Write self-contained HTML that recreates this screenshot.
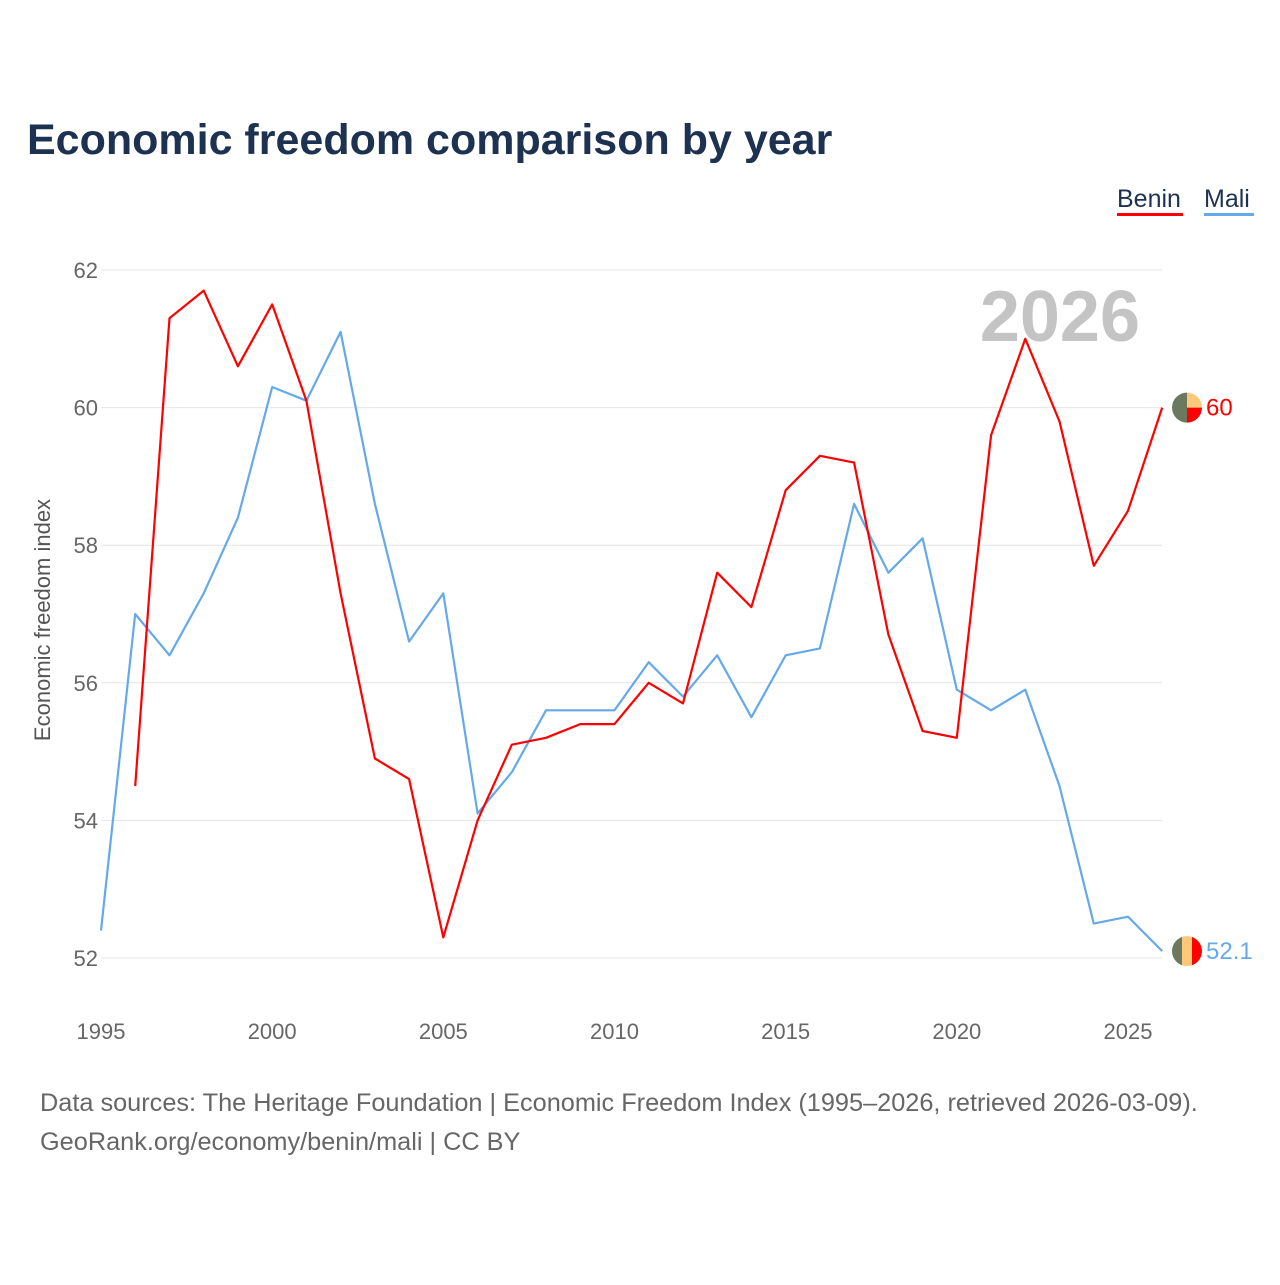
<!DOCTYPE html>
<html><head><meta charset="utf-8"><style>
body{margin:0;width:1280px;height:1280px;background:#fff;font-family:"Liberation Sans",sans-serif;overflow:hidden}
</style></head><body>
<svg width="1280" height="1280">
<text x="27" y="154" font-size="43" font-weight="bold" fill="#1d3151">Economic freedom comparison by year</text>
<g>
<text x="1117" y="207" font-size="25" fill="#1d3151">Benin</text>
<rect x="1117" y="213" width="66" height="3" fill="#ff0000"/>
<text x="1204" y="207" font-size="25" fill="#1d3151">Mali</text>
<rect x="1204" y="213" width="50" height="3" fill="#65a9ea"/>
</g>
<text x="1140" y="341" font-size="72" font-weight="bold" fill="#c4c4c4" text-anchor="end">2026</text>
<text transform="translate(50,620) rotate(-90)" font-size="22" fill="#555" text-anchor="middle">Economic freedom index</text>
<g id="grid"></g><g id="xt"></g><g id="lines"></g>
<text x="40" y="1111" font-size="25.3" fill="#666">Data sources: The Heritage Foundation | Economic Freedom Index (1995–2026, retrieved 2026-03-09).</text>
<text x="40" y="1150" font-size="25.3" fill="#666">GeoRank.org/economy/benin/mali | CC BY</text>
</svg>
<script>
const years=[1995,1996,1997,1998,1999,2000,2001,2002,2003,2004,2005,2006,2007,2008,2009,2010,2011,2012,2013,2014,2015,2016,2017,2018,2019,2020,2021,2022,2023,2024,2025,2026];
const benin=[null,54.5,61.3,61.7,60.6,61.5,60.1,57.3,54.9,54.6,52.3,54.0,55.1,55.2,55.4,55.4,56.0,55.7,57.6,57.1,58.8,59.3,59.2,56.7,55.3,55.2,59.6,61.0,59.8,57.7,58.5,60.0];
const mali=[52.4,57.0,56.4,57.3,58.4,60.3,60.1,61.1,58.6,56.6,57.3,54.1,54.7,55.6,55.6,55.6,56.3,55.8,56.4,55.5,56.4,56.5,58.6,57.6,58.1,55.9,55.6,55.9,54.5,52.5,52.6,52.1];
const yTicks=[52,54,56,58,60,62];
const xTicks=[1995,2000,2005,2010,2015,2020,2025];
const NS="http://www.w3.org/2000/svg";
const X=y=>101+(y-1995)*34.233;
const Y=v=>958-(v-52)*68.8;
function el(t,a,p){const e=document.createElementNS(NS,t);for(const k in a)e.setAttribute(k,a[k]);p.appendChild(e);return e;}
const grid=document.getElementById('grid');
yTicks.forEach(t=>{
 const l=el('line',{x1:101,x2:1162,y1:Y(t),y2:Y(t),stroke:'#e4e4e4','stroke-width':1},grid);
 
 
 const tx=el('text',{x:98,y:Y(t)+8,'font-size':22,fill:'#666','text-anchor':'end'},grid);tx.textContent=t;
 
 
});
const xt=document.getElementById('xt');
xTicks.forEach(t=>{
 const tx=el('text',{x:X(t),y:1039,'font-size':22,fill:'#666','text-anchor':'middle'},xt);tx.textContent=t;
 
 
});
const lines=document.getElementById('lines');
function series(vals,color,name){
 let d='';vals.forEach((v,i)=>{if(v==null)return;d+=(d?'L':'M')+X(years[i]).toFixed(1)+','+Y(v).toFixed(1);});
 const p=el('path',{d:d,fill:'none',stroke:color,'stroke-width':2.2,'stroke-linejoin':'round'},lines);
 
 
}
series(mali,'#65a9ea','mali');
series(benin,'#ff0000','benin');
const bl=benin[benin.length-1], ml=mali[mali.length-1], cx=1187;
const by=Y(bl), my=Y(ml);
const bg=el('g',{},lines);


el('path',{d:`M${cx},${by-15} A15,15 0 0,0 ${cx},${by+15} Z`,fill:'#6b7a5e'},bg);
el('path',{d:`M${cx},${by-15} A15,15 0 0,1 ${cx+15},${by} L${cx},${by} Z`,fill:'#fcc97a'},bg);
el('path',{d:`M${cx+15},${by} A15,15 0 0,1 ${cx},${by+15} L${cx},${by} Z`,fill:'#ff0000'},bg);
const bt=el('text',{x:1206,y:by+8,'font-size':24,fill:'#ff0000'},lines);bt.textContent=bl;


const mg=el('g',{},lines);


const cp=el('clipPath',{id:'mc'},mg);el('circle',{cx:cx,cy:my,r:15},cp);
el('rect',{x:cx-15,y:my-15,width:10,height:30,fill:'#6b7a5e','clip-path':'url(#mc)'},mg);
el('rect',{x:cx-5,y:my-15,width:10,height:30,fill:'#fcc97a','clip-path':'url(#mc)'},mg);
el('rect',{x:cx+5,y:my-15,width:10,height:30,fill:'#ff0000','clip-path':'url(#mc)'},mg);
const mt=el('text',{x:1206,y:my+8,'font-size':24,fill:'#65a9ea'},lines);mt.textContent=ml;


</script>
</body></html>
